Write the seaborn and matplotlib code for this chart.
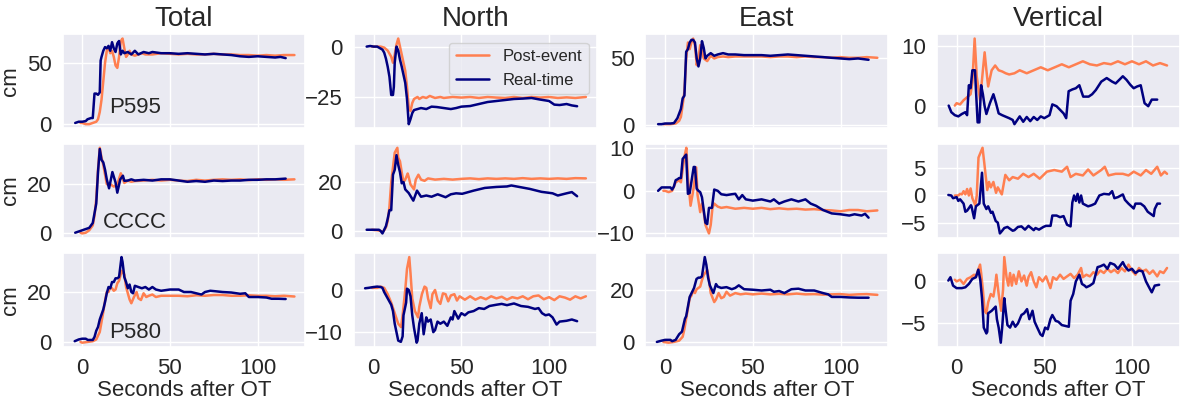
import numpy as np
import pandas as pd
import matplotlib
matplotlib.use("Agg")
import matplotlib.pyplot as plt
import seaborn as sns

# ---------------- data ----------------
components = ["Total", "North", "East", "Vertical"]
stations = ["P595", "CCCC", "P580"]
series_names = ["Post-event", "Real-time"]
x_ticks = [0, 50, 100]

# ---- P595 ----
P595_total_post_t = [-1,0,2,4,6,8,9,10,11,12,13,14,15,16,17,18,19,20,21,22,23,24,25,26,27,28,30,32,34,36,40,45,50,55,60,65,70,75,80,85,90,95,100,105,110,115,121]
P595_total_post_v = [1,1,0,0,1,2,4,10,20,35,50,60,63,58,60,55,48,46,55,68,70,62,55,57,60,57,56,57,58,57,57,58,57.5,57,57.5,57,57,57.5,57,57,56.5,56.5,56,56.5,56,56.5,56.5]
P595_total_rt_t = [-4,-2,0,2,3,5,6,7,8,9,10,10.5,11,12,13,14,15,16,17,18,19,20,21,22,23,24,26,28,30,32,35,38,40,45,50,55,60,65,70,75,80,85,90,95,100,105,110,113,116]
P595_total_rt_v = [1,2,2,2.5,4,5,5,25,25,24,26,52,55,60,63,62,64,60,67,62,59,66,68,57,60,58,59,57,60,57,59,58,59,58,58,57.5,58,57.5,57,57.5,57,56.5,55.5,55,55.5,55,54.5,55,54]

P595_north_post_t = [-1,0,2,4,6,8,10,11,12,13,14,15,16,17,18,19,20,21,22,23,24,25,26,28,30,32,35,38,40,45,50,55,60,65,70,75,80,85,90,95,100,105,110,115,121]
P595_north_post_v = [0,0,0,0,-0.5,-2,-5,-8,-4,1,4,0,-4,-8,-12,-20,-30,-32,-28,-26,-25.5,-25,-26,-25,-25.5,-24.5,-25.5,-25,-25.5,-25,-25.3,-25,-25.5,-25,-25.3,-25.5,-25,-25.5,-25,-25.3,-25,-25.5,-25.2,-25.5,-25]
P595_north_rt_t = [-4,-2,0,2,3,5,6,7,8,9,10,11,11.5,12,13,14,15,16,17,18,19,20,21,22,23,25,27,30,33,36,40,44,47,50,55,60,65,70,75,80,85,90,95,100,103,106,110,113,116]
P595_north_rt_v = [0,0.3,0,0,-0.5,-1.5,-3,-6,-10,-15,-24,-24,-20,-8,0,-2,-6.5,-10,-14,-18,-26,-38.5,-36,-33,-31.5,-31,-30.5,-31,-29.8,-30,-30.5,-31,-30.5,-29.8,-29.5,-28.5,-27.5,-27,-26.5,-26,-25.8,-25.5,-26.3,-27,-28.8,-29,-28.5,-29.2,-29.6]

P595_east_post_t = [-1,0,3,6,8,9,10,11,12,13,14,15,16,17,18,19,20,21,22,24,26,28,30,33,36,40,45,50,55,60,65,70,75,80,85,90,95,100,105,110,115,121]
P595_east_post_v = [0.5,0.5,0.5,1,3,6,15,25,50,62,57,62,65,60,45,50,60,55,50,48,52,50,51,51.5,51,51.5,51.5,51.5,51.5,51,51.5,51.5,51,51.5,51,51,50.5,51,50.5,50.5,51,50.5]
P595_east_rt_t = [-4,-2,0,3,5,7,9,10,11,12,13,14,15,16,17,18,19,20,21,22,23,24,26,28,30,33,36,40,45,50,55,60,65,70,75,80,85,90,95,100,105,110,113,116]
P595_east_rt_v = [0.5,0.5,1,1,1.3,5,12,20,22,55,57,62,64,64,62,50,44,50,63,58,50,52,54,52,53,54,53,53,52.5,52.5,52.5,52,52.5,53,52.5,52,51.5,51,50.5,50,49.5,50,49.5,49]

P595_vert_post_t = [-1,0,2,4,6,8,9,10.3,11.5,13.4,15,16,17,18,20,22,24,26,28,30,33,36,40,44,48,52,56,60,64,68,72,76,80,84,88,92,96,100,104,108,112,116,120]
P595_vert_post_v = [0.1,0.5,0.3,1,1.5,2,4,11.3,5,1,6,9,6,3.3,6,6.8,6,5.8,5.5,5.3,5.5,6,5.5,6,6.5,6,6.5,7,6.5,7,7.5,7,6.8,7.2,7,7.5,7,7.5,7,7.5,6.8,7.2,6.8]
P595_vert_rt_t = [-4.5,-3,-1,1,3,5,6,7,8,9,10.5,11,12,13,14,15,16,17,19,21,22.5,24,26,30,32,33,36,38,40,42,44,46,48,50,53,54.6,57,59,61,62.5,63.9,66,68,70,72.2,75.3,77.3,79.4,82.5,85.6,88.7,90.7,94.8,96.9,99,101,103,105,107.2,109.3,111.3,114.4]
P595_vert_rt_v = [0.1,-1,-1.5,-1.7,-1.3,-1,-1.5,3.5,3,6,6,3,-2.7,-2.7,3.5,2,0,-1.3,0.5,2,0.5,-1.2,-1.5,-2,-2.3,-3,-1.7,-2.6,-1.8,-2.5,-1.8,-2.3,-1.7,-2,-1.5,0.3,0,-0.6,-1.2,-2,2.5,2.8,3,3.5,1.6,1.6,2,2.7,4.1,4.7,4.1,3.8,5,4.4,3.6,3,3.3,3.5,0.5,0,1.1,1.1]

# ---- CCCC ----
CCCC_total_post_t = [-1,0,2,4,6,7,8,9,10,11,12,13,14,16,18,20,22,24,26,28,30,35,40,45,50,55,60,65,70,75,80,85,90,95,100,105,110,115,121]
CCCC_total_post_v = [0,-0.3,0,1,3,7,14,26,35,31,28,24,20,20,19,20,24.5,20.5,21.5,21,21.3,21.5,21.8,21.5,21.8,21.5,21.3,21.8,21.5,21.8,22,21.8,22,21.7,22,21.8,22,21.8,22]
CCCC_total_rt_t = [-4,-2,0,2,4,6,7,8,9,10,11,12,13,14,15.3,17.2,19,20,21.7,23.2,24,26,28,30,35,40,45,50,55,60,65,70,75,80,85,90,95,100,105,110,116]
CCCC_total_rt_v = [0,0.5,1,1.5,2,4,8,12,25,34.5,30,29,26,22,18.3,25,20.7,16.5,22,23.5,21.4,21.5,22,21.5,21.8,21.5,22,22,21.5,21,21.3,21,21.5,21.3,21.5,21.5,21.8,21.8,22,22,22.3]

CCCC_north_post_t = [-1,2,4,5,6,7,8,9,10,11,12,13.5,14,15,16,17,18,19.4,20,21,23,24,25.5,27,29,31,35,40,45,50,55,60,65,70,75,80,85,90,95,100,105,110,115,121]
CCCC_north_post_v = [0.5,0.3,0,-0.5,0.3,1.5,4,10,20,26,32,34,30,28.5,24,20,21,23.5,22,19,17,21,23,21,20.5,21.5,21,21.3,21,21.3,21.5,21.2,21.5,21.3,21.5,21.3,21.6,21.3,21.5,21.3,21.5,21.3,21.6,21.5]
CCCC_north_rt_t = [-4,0,3,4,5,6,7,8,9,10,11,12,13,14,15,16,17,18,20,22.6,24.7,27,30,33,36.5,41,44,47,50.5,57,63.4,70,76,78.5,83,89,95.7,102,105,110,113,116]
CCCC_north_rt_v = [0.5,0.5,0.5,0,-1,0.5,2,5,8.5,8.5,23,25,31,27,24,19.5,20,17,15.5,12.4,16.5,14,14.5,14,15,13.8,15,15.4,15.2,16.5,17.6,18,18.2,18.6,18,17.2,16,15.4,14.5,15.4,15.9,14.2]

CCCC_east_post_t = [-1,0,2,4,6,8,9,10,11,12.1,13,14.5,16,17.7,18.5,20,21,22,23,25,26,27,28,30,32,35,40,45,50,55,60,65,70,75,80,85,90,95,100,105,110,115,121]
CCCC_east_post_v = [0,0,-0.3,0,2,2.5,2,5,8,10.1,3,-3.5,0,5.5,-1,-5,-3,-5,-8,-10,-8,-4,-3,-3.7,-4,-3.8,-4.2,-4,-4.2,-4,-4.3,-4.1,-4.3,-4.2,-4.4,-4.3,-4.5,-4.6,-4.8,-4.5,-4.5,-4.8,-4.6]
CCCC_east_rt_t = [-4,-2,0,3,4,5,6,7,8,9,10,11,12,13,14,16.3,17,18,19,20,21,22,23,24,25,26.7,28,30,32,35,38,40,42,44,46,50,55,60,62,65,68,72,76,80,83,86,90,95,100,105,108,112,114,116]
CCCC_east_rt_v = [0,0.8,0.8,0.8,0.3,1,2.5,2.7,3,3,7.5,8,8.5,-0.7,-0.5,5.6,5.6,0.5,0,-0.3,-1.5,-4.5,-7.5,-7.8,-4,-4,0.3,0,-0.8,-1,-0.8,-0.7,-2,-1,-2,-2.3,-2,-2.5,-2,-3,-2.5,-2,-2.5,-2,-3,-3.5,-4.5,-5.3,-5.5,-5.8,-5.5,-5.8,-5.4,-6.3]

CCCC_vert_post_t = [-1,1,2,3,4,5,6,7,8,9,10.7,11.5,12.5,14.8,15.8,17.5,18.5,19.5,21,22.5,23.5,25.8,27.8,30,32,35,38,41,44,47.4,51.5,55.7,60,63,65,68,72,75,78,82.5,84.5,86.6,90.7,94.8,98,101,105,108,111,114.4,116.5,118.6,120]
CCCC_vert_post_v = [0,0,0.3,0.2,0.8,0.2,1.2,0,1.3,-0.5,-1.8,0,7,8.8,6,1,2.5,1.5,2.5,0.5,1.5,0.2,3.8,2.8,3.4,3.1,4,3.4,4,3.1,4.4,4.7,4.4,5.3,3.4,4,3.7,4.8,3.7,4.7,5.3,3.7,4,4,3.7,4.4,3.7,4.7,4,5.3,3.7,4.4,4]
CCCC_vert_rt_t = [-4.7,-3,-2,0,1,2,4,5,6,8.2,8.5,10,11,13,14.5,15.5,17,18,19.6,20.5,22.3,23.5,24.7,26,27.2,29,32,33,35,37,39,41,44,45,47,49.5,51,53.6,54.6,57,59,61,63,65,66,67,68,69,70,71,72,75,77,79,81.4,84,87,88.7,90,92,94.8,96,98,101,102,105,107,109,112.4,113,114.5,116]
CCCC_vert_rt_v = [0.1,0,-0.5,-0.3,-1,-0.7,-1.5,-3,-2.8,-1.8,-2,-4.2,-2,-1.5,4.2,-1.5,-2.5,-2,-3.2,-3,-4.7,-5,-7,-6.5,-6,-5.8,-6.5,-6.4,-5.8,-5.7,-6.3,-5.6,-6.4,-6,-6.3,-5.8,-5.6,-5.6,-3.7,-3.7,-4,-3.8,-5.4,-5.7,-1.3,0,-1,0.3,-1.3,0,-1.5,-2,-1.8,-1.5,0,0.3,0.2,0.8,-0.5,-0.3,0.2,-0.8,-1.5,-2.4,-1.5,-1.5,-2,-3,-3.8,-2.5,-1.5,-1.5]

# ---- P580 ----
P580_total_post_t = [-1,0,3,6,8,10,11,12,13,14,15,16,17,18,19,20,21,22.5,24,25,26,27,28,29.5,31,32,33.5,35,36.5,38,40,42,45,50,55,60,65,70,75,80,85,90,95,100,105,110,115,121]
P580_total_post_v = [0,-0.3,0,0.3,1,4,8,12,16.5,20,20,22,21.5,20.5,21,23.5,24.5,28.5,27,22,19.5,17,15.5,18,20,17.5,16.8,19.5,18,18.5,19,18,18.5,18.5,18.5,18.3,18.7,18.5,18.8,18.8,18.5,18.5,18.7,18.5,18.5,18.3,18.5,18.2]
P580_total_rt_t = [-4.3,-2,0,2,3.2,6,7,8,9,10,11,12,13,14,15,16,17,18,19,20,21,22.4,23,24,25,26,27,28,29,30,32,34,36,38,40,42,45,50,55,58,62,65,68,70,73,76,80,85,90,93,95,100,105,108,112,116]
P580_total_rt_v = [0.3,1,1.3,1.3,0.8,0.8,2,4.5,6,9,11,13,16,19.5,22,21.5,24,24,25.5,25.5,26,34,32,26,24,21.5,23,20,19.5,22.5,22,21.5,22,21,22,21,20.5,21,21,20,20,19.5,19,20,20.5,20.3,20,19.8,19.3,19.5,18,18,17.8,17.3,17.3,17.2]

P580_north_post_t = [-1,0,2,4,6,8,10,12,14,15.6,16.5,18,19,20.3,21,22,23.5,25.3,26,27.5,29,30,31,32.5,33.5,35,36.5,38,39.5,41,42.5,44,46,47.5,49,52,55,58,61,64,67,70,73,76,79,82,85,88,91,94,97,100,103,106,109,112,115,118,121]
P580_north_post_v = [0.5,0.5,0.5,0.8,0.5,-1,-3,-5.5,-8,-8.8,-6,0,5,7.8,4,-2,-5,-6.5,-4,-1,0.8,0.5,-2,-4.3,-1,0,-2.5,-3.3,-0.8,-1,-2.7,-1.3,-1,-2.5,-1.5,-2.3,-1.5,-2.3,-1.7,-2.2,-1.5,-2,-1.6,-2.3,-1.7,-2,-1.5,-2.2,-1.5,-1.3,-2.2,-1.7,-2.4,-1.5,-1.8,-2.3,-1.5,-2,-1.5]
P580_north_rt_t = [-4.9,-3,0,2,4,5,6,8,10,11,12,13,14,15.5,16.5,17,18.5,19,20,21,22,23,24.5,25,26,27.4,28.5,30,31,32.5,34,35,36.4,38,40,42,44,45,46,48.2,50,52,54,57,60,63,66,70,73,76,80,84,88,92,94,96,98,100,102,104.3,106,110,113,116]
P580_north_rt_v = [0.4,0.5,0.7,0.8,0.7,0.5,-0.5,-2,-3.5,-5,-8,-10,-12,-12.3,-11,-6,-3,0.3,0,-1.5,-6,-9,-12.5,-12,-8,-5.5,-10.5,-6.5,-7.5,-7,-10,-9.5,-7.5,-8,-7.5,-8.5,-6.5,-7,-5,-6.8,-5.5,-6,-5.3,-5,-4.3,-4.5,-3.8,-3.5,-3.3,-3.6,-3.2,-3.8,-4,-4.5,-4.3,-5.5,-6,-5.8,-6.5,-8.2,-7.5,-7.3,-7,-7.4]

P580_east_post_t = [-1,2,5,8,10,11,12,13,14,15,16,17,18,19,20,21,22,24,25,26,28,29,30.5,32,33.5,35,37,40,43,46,50,55,60,65,70,75,80,85,90,95,100,105,110,115,121]
P580_east_post_v = [0,-0.3,0,0.5,2,5,9,13,17,18,20,19,20.5,21,21.5,24,26,28,24,19,15.5,16.5,19,17,17.5,19.5,18,19,18.5,18.8,18.5,18.8,18.5,18.7,18.5,18.8,18.5,18.6,18.4,18.5,18.6,18.3,18.5,18.6,18.3]
P580_east_rt_t = [-4.7,-2,0,3,4,6,8,9.6,11.3,12,14,15.8,16.5,17.9,19,20,21,22.6,23.5,24.5,25.5,27.5,29,30,32,35,38,40,42,45,50,55,60,62,65,68,72,76,80,85,90,93,95,100,105,110,116]
P580_east_rt_v = [0,0.5,0.8,0.8,0.3,0.8,3,4,9,10,17.5,20,21,24.5,25,25,25.5,33,30,25,22,19,22.5,21.5,21,21.3,20.5,21,22,20.5,20.3,20,20.3,19.5,19.8,19,20.5,20.7,20,20,19,18.5,17.5,17.5,17.3,17.2,17.2]

P580_vert_post_t = [-1,0,2,4,6,8,10,11,12,13.4,14,15,16,17,18,19.5,21,22,22.7,24,25.4,26.5,27.2,28.5,29.5,30.5,31.5,32.5,34,35.5,37,38.5,40,41,42.5,44,45.5,47,49,51,53.5,55,57,59,61,63,65,67,69,71,72,74,76,78,80,82,84,86,88,90,92,94,96,98,100,102,104,106,108,110,112,114.4,116,118,120]
P580_vert_post_v = [0.2,0,0.2,-0.3,0.3,0.5,0.8,0.5,1.2,2,1,-1,-3.5,-3.8,-2.5,-1.5,-1.8,-0.5,0.8,-1.5,-3.5,-1,2.9,0.5,-0.5,1,-0.5,0.8,-0.3,1.2,0,0.7,-0.5,0.5,1.1,0,-0.7,0.5,0,0.6,-0.8,0.5,0.2,0.8,0.3,0.6,0.9,0.4,0.8,1.6,0.5,0.8,0.6,1.1,0.8,1.3,1,1.5,1.1,1.4,1,1.6,1.2,2,1.3,0.8,1.6,1.2,1.4,0.9,1.3,0.6,1.2,1,1.6]
P580_vert_rt_t = [-4.7,-3.5,-2,0,3,5,7,9,11,12.4,13.5,14.5,15.5,17,17.5,18,20,22.3,23,24,25.2,26,27.2,28,29,30.5,32,33.5,35,37,38.5,40.2,41.5,43.3,44.5,46,47.8,49,50.5,52,53.5,54.6,56.5,58,60,62,64,65,66.5,68,70,71.5,73,74,76,78,80.4,82,84,86,87.6,90,92,94.8,96,98,100,102,104,106,108,110,111.3,113,115.5]
P580_vert_rt_v = [0.1,0.5,-0.5,-0.8,-0.8,-0.7,-0.3,0.3,0.5,1.4,0.2,-2,-5.5,-6.2,-6,-3.8,-3.5,-3,-4.5,-5.5,-7.3,-5.5,-2,-3.5,-5.2,-5.5,-4.8,-5.4,-5,-4,-3.8,-3.3,-4.5,-3.5,-4.8,-5.5,-6.3,-6.5,-5.5,-5.7,-4.5,-4,-4.7,-4.8,-5.2,-5.3,-5.4,-2.3,-1.5,0,0.8,-0.3,-0.5,-0.7,-0.5,-0.2,1.7,1.8,2,1.5,2.2,2,1.5,2.3,1.8,1.3,1.5,1,1.3,1.2,0,-0.8,-1.3,-0.5,-0.4]

# y tick values per panel (row = station, col = component)
yticks_P595 = [[0, 50], [-25, 0], [0, 50], [0, 10]]
yticks_CCCC = [[0, 20], [0, 20], [-10, 0, 10], [-5, 0, 5]]
yticks_P580 = [[0, 20], [-10, 0], [0, 20], [-5, 0]]

# ---------------- assemble ----------------
panels = {
    ("P595", "Total"): (P595_total_post_t, P595_total_post_v, P595_total_rt_t, P595_total_rt_v),
    ("P595", "North"): (P595_north_post_t, P595_north_post_v, P595_north_rt_t, P595_north_rt_v),
    ("P595", "East"): (P595_east_post_t, P595_east_post_v, P595_east_rt_t, P595_east_rt_v),
    ("P595", "Vertical"): (P595_vert_post_t, P595_vert_post_v, P595_vert_rt_t, P595_vert_rt_v),
    ("CCCC", "Total"): (CCCC_total_post_t, CCCC_total_post_v, CCCC_total_rt_t, CCCC_total_rt_v),
    ("CCCC", "North"): (CCCC_north_post_t, CCCC_north_post_v, CCCC_north_rt_t, CCCC_north_rt_v),
    ("CCCC", "East"): (CCCC_east_post_t, CCCC_east_post_v, CCCC_east_rt_t, CCCC_east_rt_v),
    ("CCCC", "Vertical"): (CCCC_vert_post_t, CCCC_vert_post_v, CCCC_vert_rt_t, CCCC_vert_rt_v),
    ("P580", "Total"): (P580_total_post_t, P580_total_post_v, P580_total_rt_t, P580_total_rt_v),
    ("P580", "North"): (P580_north_post_t, P580_north_post_v, P580_north_rt_t, P580_north_rt_v),
    ("P580", "East"): (P580_east_post_t, P580_east_post_v, P580_east_rt_t, P580_east_rt_v),
    ("P580", "Vertical"): (P580_vert_post_t, P580_vert_post_v, P580_vert_rt_t, P580_vert_rt_v),
}
yticks_all = {"P595": yticks_P595, "CCCC": yticks_CCCC, "P580": yticks_P580}
# station label placement (axes fraction)
label_pos = {"P595": (0.19, 0.22), "CCCC": (0.165, 0.165), "P580": (0.19, 0.15)}

# ---------------- style ----------------
sns.set_theme(style="darkgrid")
plt.rcParams["font.family"] = ["Liberation Sans", "DejaVu Sans"]
plt.rcParams["axes.unicode_minus"] = True

POST_COLOR = "coral"
RT_COLOR = "navy"
LW = 1.8

fig, axes = plt.subplots(3, 4, figsize=(11.81, 4.03), dpi=100, sharex=True)
fig.subplots_adjust(left=0.053, right=0.999, top=0.915, bottom=0.139,
                    wspace=0.2, hspace=0.16)

for r, st in enumerate(stations):
    for c, comp in enumerate(components):
        ax = axes[r, c]
        pt, pv, rt, rv = panels[(st, comp)]
        df_post = pd.DataFrame({"t": pt, "v": pv})
        df_rt = pd.DataFrame({"t": rt, "v": rv})
        first = (r == 0 and c == 1)
        sns.lineplot(data=df_post, x="t", y="v", ax=ax, color=POST_COLOR,
                     lw=LW, estimator=None,
                     label=series_names[0] if first else None, legend=False)
        sns.lineplot(data=df_rt, x="t", y="v", ax=ax, color=RT_COLOR,
                     lw=LW, estimator=None,
                     label=series_names[1] if first else None, legend=False)
        ax.set_yticks(yticks_all[st][c])
        ax.set_xticks(x_ticks)
        ax.tick_params(axis="both", labelsize=16, pad=2)
        ax.set_xlabel("")
        ax.set_ylabel("")
        if r == 0:
            ax.set_title(comp, fontsize=20, pad=6)
        if c == 0:
            ax.set_ylabel("cm", fontsize=16, labelpad=4)
            lx, ly = label_pos[st]
            ax.text(lx, ly, st, transform=ax.transAxes, fontsize=16,
                    color="#262626", ha="left", va="center")
        if r == 2:
            ax.set_xlabel("Seconds after OT", fontsize=16, labelpad=1)
        if first:
            ax.legend(loc="upper right", fontsize=12, frameon=True,
                      borderpad=0.4, handlelength=2.0)

fig.savefig("out.png", dpi=100)
